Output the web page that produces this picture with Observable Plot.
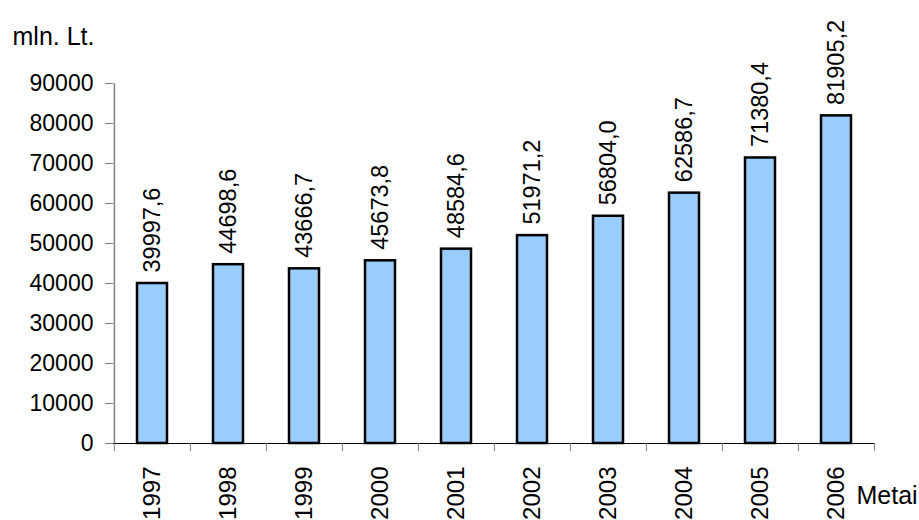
<!DOCTYPE html>
<html>
<head>
<meta charset="utf-8">
<script src="https://cdn.jsdelivr.net/npm/d3@7"></script>
<script src="https://cdn.jsdelivr.net/npm/@observablehq/plot@0.6"></script>
<style>
  html, body { margin: 0; padding: 0; background: #fff; }
</style>
</head>
<body>
<div id="chart"></div>
<script>
const years = ["1997","1998","1999","2000","2001","2002","2003","2004","2005","2006"];
const values = [39997.6, 44698.6, 43666.7, 45673.8, 48584.6, 51971.2, 56804.0, 62586.7, 71380.4, 81905.2];
const yTicks = [0, 10000, 20000, 30000, 40000, 50000, 60000, 70000, 80000, 90000];
const yUnit = "mln. Lt.";
const xUnit = "Metai";

const data = years.map((y, i) => ({year: y, value: values[i]}));
const fmt = v => v.toFixed(1).replace(".", ",");

const W = 919, H = 520, ML = 113, MR = 44, MT = 83, MB = 77;
const step = (W - ML - MR) / years.length;

const chart = Plot.plot({
  width: W,
  height: H,
  marginLeft: ML,
  marginRight: MR,
  marginTop: MT,
  marginBottom: MB,
  style: {fontFamily: "'Liberation Sans', Arial, sans-serif", fontSize: "23px", background: "#fff", color: "#000", overflow: "visible"},
  x: {type: "band", domain: years, paddingInner: 0.6, paddingOuter: 0.3, label: null},
  y: {domain: [0, 90000], label: null},
  marks: [
    Plot.barY(data, {x: "year", y: "value", fill: "#99CCFF", stroke: "#000", strokeWidth: 2.5}),
    Plot.ruleX([years[0]], {dx: -step / 2, stroke: "#808080", strokeWidth: 1.5}),
    Plot.ruleY([0], {stroke: "#000", strokeWidth: 1.2}),
    Plot.axisY({ticks: yTicks, tickSize: 8, tickPadding: 12, stroke: "#808080", tickFormat: d => String(d), label: null}),
    Plot.axisX({tickSize: 8, tickFormat: () => "", dx: -step / 2, stroke: "#808080", label: null}),
    Plot.axisX([years[years.length - 1]], {tickSize: 8, tickFormat: () => "", dx: step / 2, stroke: "#808080", label: null}),
    Plot.axisX({tickSize: 0, tickPadding: 23, tickRotate: -90, fontSize: 24, label: null}),
    Plot.text(data, {x: "year", y: "value", text: d => fmt(d.value), rotate: -90, textAnchor: "start", lineAnchor: "middle", dy: -11, fontSize: 23.5, fill: "#000"}),
    Plot.text([yUnit], {frameAnchor: "top-left", textAnchor: "start", lineAnchor: "middle", dx: -101, dy: -47, fontSize: 25, fill: "#000"}),
    Plot.text([xUnit], {frameAnchor: "bottom-right", textAnchor: "start", lineAnchor: "middle", dx: -19, dy: 52, fontSize: 25, fill: "#000"})
  ]
});
document.getElementById("chart").appendChild(chart);
</script>
</body>
</html>
